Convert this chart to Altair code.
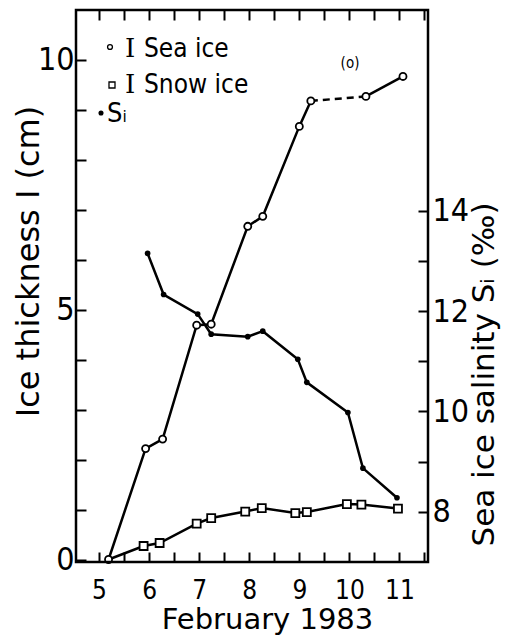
import altair as alt
import pandas as pd

# ---- data ----
sea_day = [5.19, 5.93, 6.27, 6.95, 7.24, 7.97, 8.27, 9.00, 9.23, 10.33, 11.07]
sea_thk = [0.0, 2.22, 2.41, 4.69, 4.71, 6.67, 6.87, 8.67, 9.18, 9.27, 9.67]
# index pair of the sea-ice segment drawn dashed
sea_dashed_pair = [8, 9]

snow_day = [5.19, 5.89, 6.21, 6.95, 7.24, 7.92, 8.25, 8.92, 9.15, 9.95, 10.24, 10.97]
snow_thk = [0.0, 0.27, 0.33, 0.72, 0.83, 0.96, 1.03, 0.93, 0.95, 1.11, 1.10, 1.02]

sal_day = [5.97, 6.29, 6.97, 7.24, 7.97, 8.27, 8.97, 9.15, 9.97, 10.27, 10.95]
sal_val = [13.15, 12.33, 11.94, 11.54, 11.49, 11.60, 11.04, 10.58, 9.98, 8.87, 8.28]

x_ticks = [5.0, 5.5, 6.0, 6.5, 7.0, 7.5, 8.0, 8.5, 9.0, 9.5, 10.0, 10.5, 11.0, 11.5]
left_ticks = [0, 1, 2, 3, 4, 5, 6, 7, 8, 9, 10]
right_ticks = [8, 9, 10, 11, 12, 13, 14]

x_title = "February 1983"
left_title = "Ice thickness I (cm)"
right_title = "Sea ice salinity Sᵢ (‰)"
legend_labels = ["Sea ice", "Snow ice", "Sᵢ"]
panel_label = "(o)"

FONT = "DejaVu Sans Condensed, DejaVu Sans, sans-serif"
TFONT = "DejaVu Sans, sans-serif"
SERIF = "DejaVu Serif, serif"

# ---- tables ----
sea_df = pd.DataFrame({"day": sea_day, "thk": sea_thk})
snow_df = pd.DataFrame({"day": snow_day, "thk": snow_thk})
sal_df = pd.DataFrame({"day": sal_day, "sal": sal_val})

rows = []
seg = 0
for i in range(len(sea_day)):
    if i == sea_dashed_pair[1]:
        seg += 1
    rows.append({"day": sea_day[i], "thk": sea_thk[i], "seg": seg})
sea_solid_df = pd.DataFrame(rows)
sea_dash_df = sea_df.iloc[sea_dashed_pair[0]:sea_dashed_pair[1] + 1]

W, H = 352, 552
xdom = [4.54, 11.57]
ydom_left = [-0.05, 11.0]
ydom_right = [7.0, 18.0]

x_scale = alt.Scale(domain=xdom, nice=False, zero=False)
yl_scale = alt.Scale(domain=ydom_left, nice=False, zero=False)
yr_scale = alt.Scale(domain=ydom_right, nice=False, zero=False)

x_bottom_axis = alt.Axis(
    orient="bottom", values=x_ticks,
    labelExpr="datum.value % 1 == 0 ? format(datum.value, 'd') : ''",
    tickSize=10, offset=-10, domain=False, grid=False, labelPadding=15, labelFontSize=26,
    labelFlush=False, title=x_title, titleFont=TFONT, titleFontSize=29,
    titleX=191, titleY=76, titleBaseline="alphabetic", titleAlign="center",
)
y_left_axis = alt.Axis(
    orient="left", values=left_ticks,
    labelExpr="datum.value % 5 == 0 ? format(datum.value, 'd') : ''",
    tickSize=10, offset=-10, domain=False, grid=False, labelPadding=2, labelFontSize=32,
    title=left_title, titleFont=TFONT, titleFontSize=32,
    titleX=-58, titleY=251, titleBaseline="middle", titleAlign="center", titleAngle=270,
)
x_top_axis = alt.Axis(
    orient="top", values=x_ticks, labels=False, tickSize=10, offset=-10,
    domain=False, grid=False, title=None,
)
y_right_axis = alt.Axis(
    orient="right", values=right_ticks,
    labelExpr="datum.value % 2 == 0 ? format(datum.value, 'd') : ''",
    tickSize=10, offset=-10, domain=False, grid=False, labelPadding=4, labelFontSize=32,
    title=right_title, titleFont=TFONT, titleFontSize=31,
    titleX=66, titleY=364, titleBaseline="middle", titleAlign="center", titleAngle=270,
)

xb = alt.X("day:Q", scale=x_scale, axis=x_bottom_axis)
yl = alt.Y("thk:Q", scale=yl_scale, axis=y_left_axis)
xt = alt.X("day:Q", scale=x_scale, axis=x_top_axis)
yr = alt.Y("sal:Q", scale=yr_scale, axis=y_right_axis)

snow_line = alt.Chart(snow_df).mark_line(color="black", strokeWidth=2.5).encode(x=xb, y=yl)
sea_line = alt.Chart(sea_solid_df).mark_line(color="black", strokeWidth=2.5).encode(
    x=xb, y=yl, detail="seg:N")
sea_dash = alt.Chart(sea_dash_df).mark_line(color="black", strokeWidth=2.5, strokeDash=[7, 5]).encode(
    x=xb, y=yl)
snow_pts = alt.Chart(snow_df.iloc[1:]).mark_point(
    shape="square", size=64, filled=True, fill="white", stroke="black", strokeWidth=1.8, opacity=1
).encode(x=xb, y=yl)
sea_pts = alt.Chart(sea_df).mark_point(
    shape="circle", size=50, filled=True, fill="white", stroke="black", strokeWidth=1.8, opacity=1
).encode(x=xb, y=yl)

# legend
one = pd.DataFrame({"k": [0]})
leg_circle = alt.Chart(one).mark_point(shape="circle", size=24, filled=True, fill="white",
                                       stroke="black", strokeWidth=1.3, opacity=1).encode(
    x=alt.value(34), y=alt.value(37))
leg_square = alt.Chart(one).mark_point(shape="square", size=36, filled=True, fill="white",
                                       stroke="black", strokeWidth=1.3, opacity=1).encode(
    x=alt.value(36), y=alt.value(75))
leg_dot = alt.Chart(one).mark_point(shape="circle", size=26, filled=True, color="black",
                                    opacity=1).encode(x=alt.value(25), y=alt.value(103))
leg_I1 = alt.Chart(one).mark_text(text="I", font=SERIF, fontSize=26, align="left",
                                  baseline="alphabetic").encode(x=alt.value(49), y=alt.value(47))
leg_I2 = alt.Chart(one).mark_text(text="I", font=SERIF, fontSize=26, align="left",
                                  baseline="alphabetic").encode(x=alt.value(49), y=alt.value(83))
leg_t1 = alt.Chart(one).mark_text(text=legend_labels[0], font=FONT, fontSize=26, align="left",
                                  baseline="alphabetic").encode(x=alt.value(68), y=alt.value(47))
leg_t2 = alt.Chart(one).mark_text(text=legend_labels[1], font=FONT, fontSize=26, align="left",
                                  baseline="alphabetic").encode(x=alt.value(68), y=alt.value(83))
leg_t3 = alt.Chart(one).mark_text(text=legend_labels[2], font=FONT, fontSize=27, align="left",
                                  baseline="alphabetic").encode(x=alt.value(31), y=alt.value(112))
panel = alt.Chart(one).mark_text(text=panel_label, font=FONT, fontSize=15, align="center",
                                 baseline="middle").encode(x=alt.value(274), y=alt.value(53))

frame = alt.Chart(one).mark_rect(fill=None, stroke="black", strokeWidth=2.5).encode(
    x=alt.value(0), x2=alt.value(W), y=alt.value(0), y2=alt.value(H))

thick = alt.layer(snow_line, sea_line, sea_dash, snow_pts, sea_pts,
                  leg_circle, leg_square, leg_dot, leg_I1, leg_I2, leg_t1, leg_t2, leg_t3,
                  panel, frame)

sal_line = alt.Chart(sal_df).mark_line(color="black", strokeWidth=2.5).encode(x=xt, y=yr)
sal_pts = alt.Chart(sal_df).mark_point(shape="circle", size=32, filled=True, color="black",
                                       opacity=1).encode(x=xt, y=yr)
sal = alt.layer(sal_line, sal_pts)

chart = alt.layer(thick, sal).resolve_scale(y="independent").resolve_axis(
    x="independent", y="independent"
).properties(
    width=W, height=H, autosize="none", background="white",
    padding={"left": 68, "top": 2, "right": 74, "bottom": 74},
).configure_view(stroke=None).configure_axis(
    grid=False, tickColor="black", tickWidth=2, labelColor="black", titleColor="black",
    labelFont=FONT, titleFont=TFONT, titleFontWeight="normal",
)

chart.save("out.html", embed_options={"renderer": "svg", "actions": False})
